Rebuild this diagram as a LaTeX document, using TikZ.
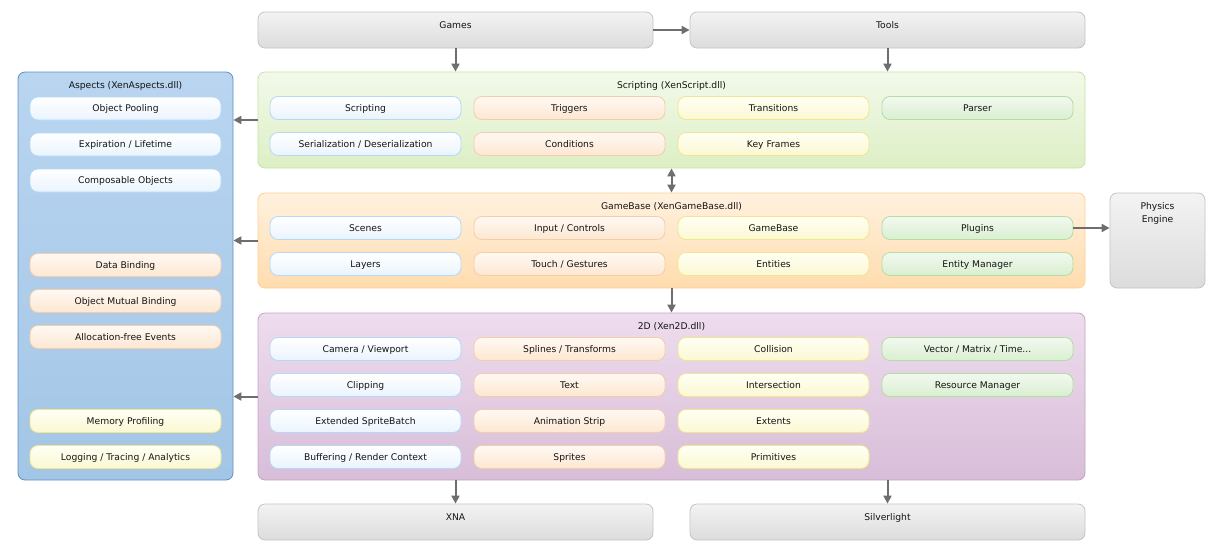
\documentclass[tikz,border=0pt]{standalone}
\usepackage{fontspec}
\setmainfont{DejaVu Sans}
\usetikzlibrary{arrows.meta}

\definecolor{arrowgray}{HTML}{6E6E6E}
\definecolor{graytop}{HTML}{F3F3F3}
\definecolor{graybot}{HTML}{DCDCDC}
\definecolor{grayline}{HTML}{C4C4C4}
\definecolor{greentop}{HTML}{F2F9EA}
\definecolor{greenbot}{HTML}{DDEFC5}
\definecolor{greenline}{HTML}{C6E3A0}
\definecolor{orangetop}{HTML}{FFF1DF}
\definecolor{orangebot}{HTML}{FFDCAE}
\definecolor{orangeline}{HTML}{FFCF8F}
\definecolor{purpletop}{HTML}{EEDDEE}
\definecolor{purplebot}{HTML}{D8BDD8}
\definecolor{purpleline}{HTML}{C4A4C4}
\definecolor{bluetop}{HTML}{B9D5F0}
\definecolor{bluebot}{HTML}{A3C6E6}
\definecolor{blueline}{HTML}{5E8FC6}
\definecolor{bitemtop}{HTML}{FFFFFF}
\definecolor{bitembot}{HTML}{EAF4FE}
\definecolor{bitemline}{HTML}{B4D8F6}
\definecolor{oitemtop}{HTML}{FFF9F3}
\definecolor{oitembot}{HTML}{FDE7D2}
\definecolor{oitemline}{HTML}{F5CDAA}
\definecolor{yitemtop}{HTML}{FFFFF4}
\definecolor{yitembot}{HTML}{FBF8D2}
\definecolor{yitemline}{HTML}{EFE68E}
\definecolor{gitemtop}{HTML}{F2F9EF}
\definecolor{gitembot}{HTML}{D9EFD0}
\definecolor{gitemline}{HTML}{B5DDA3}
\definecolor{textcol}{HTML}{141414}

\tikzset{
  box/.style={rounded corners=7pt, line width=0.8pt, inner sep=0pt,
    text=textcol, font=\fontsize{9.2}{11}\selectfont},
  title/.style={anchor=north, inner sep=0pt, yshift=-10pt, align=center,
    text=textcol, font=\fontsize{9.2}{13}\selectfont},
  platform/.style={box, draw=grayline, top color=graytop, bottom color=graybot,
    minimum width=395pt, minimum height=36pt},
  group/.style={box, minimum width=827pt},
  item/.style={box, minimum width=191pt, minimum height=23pt, rounded corners=8pt,
    text height=8pt, text depth=1.5pt},
  blueitem/.style={item, draw=bitemline, top color=bitemtop, bottom color=bitembot},
  orangeitem/.style={item, draw=oitemline, top color=oitemtop, bottom color=oitembot},
  yellowitem/.style={item, draw=yitemline, top color=yitemtop, bottom color=yitembot},
  greenitem/.style={item, draw=gitemline, top color=gitemtop, bottom color=gitembot},
  link/.style={-{Triangle[length=8pt,width=8pt]}, line width=2pt, color=arrowgray},
  twoway/.style={{Triangle[length=8pt,width=8pt]}-{Triangle[length=8pt,width=8pt]}}
}

\begin{document}
\begin{tikzpicture}[x=1pt,y=-1pt]
  \useasboundingbox (0,0) rectangle (1223,554);

  % platforms
  \node (games) [platform, label={[title]north:Games}] at (455.5,30) {};
  \node (tools) [platform, label={[title]north:Tools}] at (887.5,30) {};
  \node (xna) [platform, label={[title]north:XNA}] at (455.5,522) {};
  \node (silverlight) [platform, label={[title]north:Silverlight}] at (887.5,522) {};
  \node (physics) [platform, minimum width=95pt, minimum height=95pt,
    label={[title]north:Physics\\Engine}] at (1157.5,240.5) {};

  % groups
  \node (aspects) [box, draw=blueline, top color=bluetop, bottom color=bluebot,
    minimum width=215pt, minimum height=408pt,
    label={[title]north:Aspects (XenAspects.dll)}] at (125.5,276) {};
  \node (scripting) [group, minimum height=96pt, draw=greenline,
    top color=greentop, bottom color=greenbot,
    label={[title]north:Scripting (XenScript.dll)}] at (671.5,120) {};
  \node (gamebase) [group, minimum height=95pt, draw=orangeline,
    top color=orangetop, bottom color=orangebot,
    label={[title]north:GameBase (XenGameBase.dll)}] at (671.5,240.5) {};
  \node (twod) [group, minimum height=167pt, draw=purpleline,
    top color=purpletop, bottom color=purplebot,
    label={[title]north:2D (Xen2D.dll)}] at (671.5,396.5) {};

  % aspects
  \node (pooling) [blueitem] at (125.5,108.5) {Object Pooling};
  \node (expiration) [blueitem] at (125.5,144.5) {Expiration / Lifetime};
  \node (composable) [blueitem] at (125.5,180.5) {Composable Objects};
  \node (binding) [orangeitem] at (125.5,265) {Data Binding};
  \node (mutual) [orangeitem] at (125.5,301) {Object Mutual Binding};
  \node (events) [orangeitem] at (125.5,337) {Allocation-free Events};
  \node (profiling) [yellowitem] at (125.5,421) {Memory Profiling};
  \node (logging) [yellowitem] at (125.5,457) {Logging / Tracing / Analytics};

  % scripting
  \node (script) [blueitem] at (365.5,108) {Scripting};
  \node (serial) [blueitem] at (365.5,144) {Serialization / Deserialization};
  \node (triggers) [orangeitem] at (569.5,108) {Triggers};
  \node (conditions) [orangeitem] at (569.5,144) {Conditions};
  \node (transitions) [yellowitem] at (773.5,108) {Transitions};
  \node (keyframes) [yellowitem] at (773.5,144) {Key Frames};
  \node (parser) [greenitem] at (977.5,108) {Parser};

  % gamebase
  \node (scenes) [blueitem] at (365.5,228) {Scenes};
  \node (layers) [blueitem] at (365.5,264) {Layers};
  \node (input) [orangeitem] at (569.5,228) {Input / Controls};
  \node (touch) [orangeitem] at (569.5,264) {Touch / Gestures};
  \node (base) [yellowitem] at (773.5,228) {GameBase};
  \node (entities) [yellowitem] at (773.5,264) {Entities};
  \node (plugins) [greenitem] at (977.5,228) {Plugins};
  \node (manager) [greenitem] at (977.5,264) {Entity Manager};

  % 2d
  \node (camera) [blueitem] at (365.5,349) {Camera / Viewport};
  \node (clipping) [blueitem] at (365.5,385) {Clipping};
  \node (batch) [blueitem] at (365.5,421) {Extended SpriteBatch};
  \node (buffering) [blueitem] at (365.5,457) {Buffering / Render Context};
  \node (splines) [orangeitem] at (569.5,349) {Splines / Transforms};
  \node (text) [orangeitem] at (569.5,385) {Text};
  \node (strip) [orangeitem] at (569.5,421) {Animation Strip};
  \node (sprites) [orangeitem] at (569.5,457) {Sprites};
  \node (collision) [yellowitem] at (773.5,349) {Collision};
  \node (intersection) [yellowitem] at (773.5,385) {Intersection};
  \node (extents) [yellowitem] at (773.5,421) {Extents};
  \node (primitives) [yellowitem] at (773.5,457) {Primitives};
  \node (vector) [greenitem] at (977.5,349) {Vector / Matrix / Time...};
  \node (resource) [greenitem] at (977.5,385) {Resource Manager};

  \path[link] (games) edge (tools)
              (games.south) edge (games.south |- scripting.north)
              (tools.south) edge (tools.south |- scripting.north)
              (scripting.south) edge[twoway] (gamebase.north)
              (gamebase.south) edge (twod.north)
              (twod.south -| xna) edge (xna.north)
              (twod.south -| silverlight) edge (silverlight.north)
              (scripting.west) edge (scripting.west -| aspects.east)
              (gamebase.west) edge (gamebase.west -| aspects.east)
              (twod.west) edge (twod.west -| aspects.east)
              (plugins.east) edge (plugins.east -| physics.west)
              ;
\end{tikzpicture}
\end{document}
